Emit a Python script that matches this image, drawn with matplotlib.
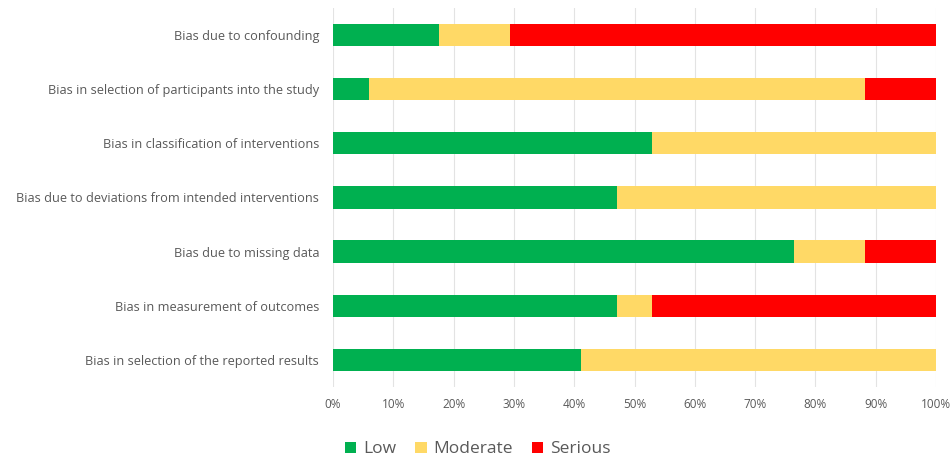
import matplotlib
matplotlib.use("Agg")
import matplotlib.pyplot as plt
import numpy as np

categories = [
    "Bias due to confounding",
    "Bias in selection of participants into the study",
    "Bias in classification of interventions",
    "Bias due to deviations from intended interventions",
    "Bias due to missing data",
    "Bias in measurement of outcomes",
    "Bias in selection of the reported results",
]
low = [17.6, 5.9, 52.9, 47.1, 76.5, 47.1, 41.2]
moderate = [11.8, 82.3, 47.1, 52.9, 11.7, 5.8, 58.8]
serious = [70.6, 11.8, 0.0, 0.0, 11.8, 47.1, 0.0]
series_names = ["Low", "Moderate", "Serious"]
colors = ["#00B050", "#FFD966", "#FF0000"]
ticks = [0, 10, 20, 30, 40, 50, 60, 70, 80, 90, 100]
tick_labels = [f"{t}%" for t in ticks]

plt.rcParams['font.family'] = ['Open Sans', 'DejaVu Sans']
fig = plt.figure(figsize=(9.52, 4.61), dpi=100)
ax = fig.add_axes([0.3498, 0.1605, 0.6334, 0.8225])

y = np.arange(len(categories))
left = np.zeros(len(categories))
for name, vals, c in zip(series_names, [low, moderate, serious], colors):
    ax.barh(y, vals, left=left, height=0.41, color=c, label=name, zorder=3)
    left += np.array(vals)

ax.set_ylim(len(categories) - 0.5, -0.5)
ax.set_xlim(0, 100)
ax.set_yticks(y)
ax.set_yticklabels(categories, fontsize=9.2, color="#595959")
ax.set_xticks(ticks)
ax.set_xticklabels(tick_labels, fontsize=8.5, color="#595959")
ax.tick_params(axis='y', length=0, pad=10)
ax.tick_params(axis='x', length=0, pad=8)
ax.grid(axis='x', color="#E3E3E3", linewidth=0.8, zorder=0)
for s in ax.spines.values():
    s.set_visible(False)

leg = fig.legend(loc="center", bbox_to_anchor=(0.502, 0.025), ncol=3, frameon=False,
                 fontsize=12.5, handlelength=0.65, handleheight=0.65, handletextpad=0.4,
                 columnspacing=1.1, labelcolor="#595959")
fig.savefig("out.png", dpi=100)
